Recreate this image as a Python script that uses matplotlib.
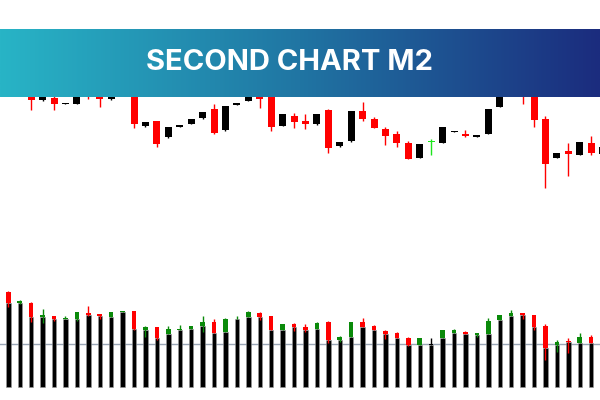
import numpy as np
import matplotlib
matplotlib.use("Agg")
import matplotlib.pyplot as plt
from matplotlib.colors import LinearSegmentedColormap

title = "SECOND CHART M2"

# price candles (open, high, low, close), one per bar
price_open = [281, 230, 240, 210, 200, 201.7, 196.3, 196.3, 212, 208, 200.7, 230,
              212, 173.7, 179, 163, 173, 176, 181.7, 191, 170, 195.3, 199.3, 207,
              205, 174.3, 184, 179, 175.7, 190, 153.7, 158.7, 189, 181.3, 171.3, 165.7,
              156.7, 142.3, 157.7, 157.3, 168, 166.3, 163.5, 166, 193, 215, 225, 212,
              181.3, 142.3, 149.3, 145.3, 157, 146]
price_high = [283, 250, 245, 215, 212, 205, 197, 206, 214, 210, 208, 243,
              214, 178, 179.5, 173.5, 175, 181.5, 188.5, 196, 194.5, 197, 208, 209,
              206, 186, 187.3, 186.3, 186.3, 190.7, 158.3, 189.3, 198, 183, 173.3, 169,
              159, 156.3, 161.3, 173.3, 169.2, 170, 164.2, 191.5, 212, 238, 228, 214,
              184, 147.2, 157.3, 158.2, 164, 153.2]
price_low = [255, 225, 215, 190, 199.5, 190, 196.1, 196, 201, 193.3, 200, 226,
             172.3, 173.5, 153.3, 162.5, 172.8, 175.8, 181.5, 166.5, 169.5, 195, 199, 192.3,
             169.3, 174, 171.7, 171.3, 175.5, 146.7, 153.5, 158.5, 178.7, 172, 155, 153.3,
             141, 142, 145, 157, 167.8, 163.3, 163.3, 165.8, 192.8, 213, 195.7, 173.3,
             111.7, 142, 124.3, 145, 145.3, 145.8]
price_close = [260, 245, 220, 200.3, 208, 196, 197, 204, 206, 200.7, 206, 240,
               175.7, 177.7, 156.3, 173.3, 174.7, 181.3, 188.3, 166.7, 194, 196.7, 207, 201,
               173.3, 185.7, 178.3, 176, 186, 152.3, 158, 189, 181, 172.3, 164, 156.7,
               141.3, 156, 157.7, 173, 169, 164, 164.2, 191.3, 210, 235, 215, 180.3,
               136.3, 147, 146.3, 158, 147, 153]

# indicator candles in the lower panel
ind_open = [96, 94.7, 83.7, 84.3, 69.7, 71, 67.7, 68, 73.7, 73, 70.3, 74.7,
            75.7, 57, 60, 52.7, 57, 57.7, 61.3, 65.3, 55.3, 67.7, 70.3, 74.3,
            71, 57, 62.7, 60.3, 58, 64.7, 47, 49.7, 64.7, 61.3, 56, 54.3,
            49, 42, 42, 49.3, 53.7, 54.7, 52, 53, 67, 71, 73.7, 72,
            61, 42, 46, 43.7, 49.7, 42]
ind_high = [97, 96, 87, 84.7, 78, 71, 71, 75, 81, 73, 75.3, 76,
            76, 61, 60, 61, 62, 61, 71, 67.7, 69, 71, 75.7, 74.7,
            71.3, 63.3, 63.7, 63, 65.3, 65.7, 51, 65.3, 69, 62.3, 57, 55.3,
            50, 49.3, 49, 57.3, 58, 56, 54.3, 69, 72.3, 77, 74, 72.3,
            63, 47, 49, 54.3, 52, 48]
ind_low = [89, 80.3, 83, 65.3, 64.3, 65.7, 67.7, 66.3, 71, 67.7, 70.3, 74.7,
           57, 50.3, 47, 52.7, 57, 57.7, 55.3, 54.3, 55.3, 67.7, 70.3, 67,
           57, 57, 56.3, 55.3, 58, 43.7, 45, 49.7, 60, 57, 48, 48.7,
           41.3, 42, 42, 49.3, 53.7, 52.7, 49.7, 53, 67, 71, 67.7, 57,
           27, 35.3, 33.7, 43.7, 44.3, 42]
ind_close = [90, 84.3, 86.3, 70.3, 72.3, 67.7, 69, 74.7, 72.3, 71, 74.7, 76,
             58, 60.3, 48.7, 57.7, 58.3, 61, 64.7, 54.3, 67.7, 68.3, 74.7, 70.3,
             57, 63, 60.3, 57, 64.3, 47, 50.3, 64.7, 60, 57, 52.7, 48.7,
             42, 49, 42, 57, 57, 52.7, 53.7, 66, 72, 74.3, 72, 60.3,
             39.3, 45.3, 44.7, 50.3, 44.3, 47.7]
ind_level = 42.7

x = np.arange(len(price_open))

fig = plt.figure(figsize=(6, 4), dpi=100, facecolor="white")


def draw_candles(ax, o, h, l, c, up, down, doji, width, min_h):
    o, h, l, c = map(np.asarray, (o, h, l, c))
    colors = np.where(c > o, up, np.where(c < o, down, doji))
    ax.vlines(x, l, h, colors=colors, lw=1, zorder=3)
    bottom = np.minimum(o, c)
    height = np.maximum(np.abs(c - o), min_h)
    ax.bar(x, height, width=width, bottom=bottom, color=colors, lw=0, zorder=4)


# upper panel: price
ax1 = fig.add_axes([0, 0.5, 1, 0.5])
draw_candles(ax1, price_open, price_high, price_low, price_close,
             "black", "#ff0000", "#1ee51e", 0.62, 1.2)
ax1.set_xlim(0.27, 52.77)
ax1.set_ylim(100, 300)
ax1.axis("off")

# lower panel: histogram with candles on top
ax2 = fig.add_axes([0, 0, 1, 0.5])
bar_top = np.minimum(ind_open, ind_close)
ax2.bar(x, bar_top, width=0.38, color="black", edgecolor="#9a9a9a", lw=0.4, zorder=2)
draw_candles(ax2, ind_open, ind_high, ind_low, ind_close,
             "#0a8a0a", "#ff0000", "black", 0.4, 0.6)
ax2.axhline(ind_level, color="#9aa6b6", lw=1, zorder=1)
ax2.set_xlim(0.27, 52.77)
ax2.set_ylim(-13, 187)
ax2.axis("off")

# title banner with gradient
ax_b = fig.add_axes([0, 1 - 97 / 400, 1, 68 / 400])
grad = LinearSegmentedColormap.from_list("banner", ["#28b4c6", "#2075a3", "#1b2c7e"])
ax_b.imshow(np.linspace(0, 1, 256)[None, :], cmap=grad, aspect="auto",
            extent=[0, 1, 0, 1])
ax_b.axis("off")
fig.text(0.482, 1 - 70 / 400, title, color="white", fontsize=21,
         fontweight="bold", family=["Inter", "DejaVu Sans"],
         ha="center", va="baseline")

fig.savefig("out.png", dpi=100, facecolor="white")
